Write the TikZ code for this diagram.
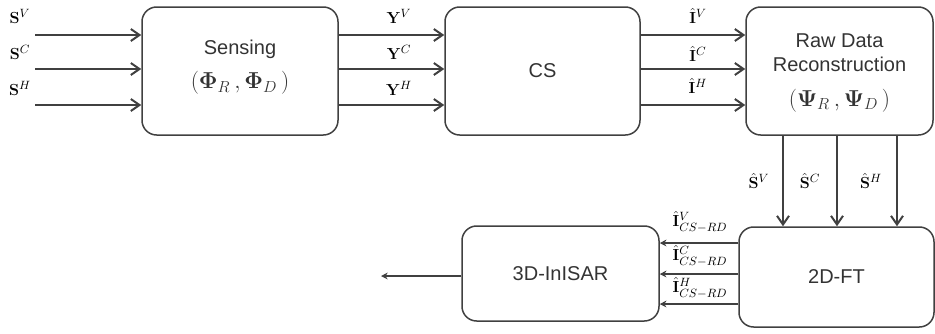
\documentclass[tikz,border=0pt]{standalone}
\usepackage{amsmath}
\usepackage[no-math]{fontspec}
\newfontfamily\arialf{Liberation Sans}
\usetikzlibrary{arrows.meta,calc}
\definecolor{ln}{HTML}{404040}
\definecolor{tx}{HTML}{333333}
\newcommand{\mfont}{\normalfont\fontsize{17}{19}\selectfont}
\begin{document}
\begin{tikzpicture}[x=0.75pt,y=-0.75pt,
  blk/.style={draw=ln,line width=1.5pt*0.75,rounded corners=11pt,align=center,
    inner sep=0pt,font=\arialf\fontsize{15}{18}\selectfont,text=tx},
  btxt/.style={align=center,inner sep=0pt,font=\arialf\fontsize{15}{18}\selectfont,text=tx},
  arr/.style={draw=ln,line width=2.2pt*0.75,-{Straight Barb[length=6.5pt,width=9pt,line width=1.5pt]}},
  larr/.style={draw=ln,line width=2.2pt*0.75,-{Stealth[length=5pt,width=5pt]}},
  lab/.style={inner sep=0pt,text=black,font=\fontsize{13}{15}\selectfont}]
\useasboundingbox (0,0) rectangle (935,333);
% boxes
\node[blk,minimum width=196*0.75pt,minimum height=128*0.75pt] (sens) at (240,71) {};
\node[btxt] (senst) at (240,67)
  {Sensing\\[8pt]\mfont$\left(\mathbf{\Phi}_{R}\,,\mathbf{\Phi}_{D}\,\right)$};
\node[blk,minimum width=195*0.75pt,minimum height=128*0.75pt] (cs) at (542.5,71) {CS};
\node[blk,minimum width=187*0.75pt,minimum height=128*0.75pt] (raw) at (839.5,71) {};
\node[btxt] (rawt) at (839.5,73)
  {Raw Data\\Reconstruction\\[8pt]\mfont$\left(\mathbf{\Psi}_{R}\,,\mathbf{\Psi}_{D}\,\right)$};
\node[blk,minimum width=195*0.75pt,minimum height=100*0.75pt] (ft) at (836.5,277) {2D-FT};
\node[blk,minimum width=197*0.75pt,minimum height=95*0.75pt] (ins) at (560.5,273.5) {3D-InISAR};
% free ends
\coordinate (i1) at (35,35);
\coordinate (i2) at (35,69);
\coordinate (i3) at (35,105);
\coordinate (out) at (381,276);
% inputs
\draw[arr] (i1) -- (i1 -| sens.west);
\draw[arr] (i2) -- (i2 -| sens.west);
\draw[arr] (i3) -- (i3 -| sens.west);
\node[lab] (ls1) at (20,16) {$\mathbf{S}^{V}$};
\node[lab] (ls2) at (20,52) {$\mathbf{S}^{C}$};
\node[lab] (ls3) at (20,88) {$\mathbf{S}^{H}$};
% sensing -> cs
\draw[arr] (i1 -| sens.east) -- (i1 -| cs.west);
\draw[arr] (i2 -| sens.east) -- (i2 -| cs.west);
\draw[arr] (i3 -| sens.east) -- (i3 -| cs.west);
\node[lab] (ly1) at (399,16) {$\mathbf{Y}^{V}$};
\node[lab] (ly2) at (399,52) {$\mathbf{Y}^{C}$};
\node[lab] (ly3) at (399,88) {$\mathbf{Y}^{H}$};
% cs -> raw
\draw[arr] (i1 -| cs.east) -- (i1 -| raw.west);
\draw[arr] (i2 -| cs.east) -- (i2 -| raw.west);
\draw[arr] (i3 -| cs.east) -- (i3 -| raw.west);
\node[lab] (li1) at (698,16) {$\hat{\mathbf{I}}^{V}$};
\node[lab] (li2) at (698,54) {$\hat{\mathbf{I}}^{C}$};
\node[lab] (li3) at (698,86) {$\hat{\mathbf{I}}^{H}$};
% raw -> ft
\coordinate (d1) at (783,0);
\coordinate (d2) at (837,0);
\coordinate (d3) at (897,0);
\draw[arr] (d1 |- raw.south) -- (d1 |- ft.north);
\draw[arr] (d2 |- raw.south) -- (d2 |- ft.north);
\draw[arr] (d3 |- raw.south) -- (d3 |- ft.north);
\node[lab] (lh1) at (759,181) {$\hat{\mathbf{S}}^{V}$};
\node[lab] (lh2) at (810,181) {$\hat{\mathbf{S}}^{C}$};
\node[lab] (lh3) at (871,181) {$\hat{\mathbf{S}}^{H}$};
% ft -> insar
\coordinate (h1) at (0,243);
\coordinate (h2) at (0,274);
\coordinate (h3) at (0,304);
\draw[larr] (h1 -| ft.west) -- (h1 -| ins.east);
\draw[larr] (h2 -| ft.west) -- (h2 -| ins.east);
\draw[larr] (h3 -| ft.west) -- (h3 -| ins.east);
\node[lab] (lc1) at (700,222) {$\hat{\mathbf{I}}^{V}_{CS-RD}$};
\node[lab] (lc2) at (700,256) {$\hat{\mathbf{I}}^{C}_{CS-RD}$};
\node[lab] (lc3) at (700,288) {$\hat{\mathbf{I}}^{H}_{CS-RD}$};
% output
\draw[larr] (ins.west |- out) -- (out);
\end{tikzpicture}
\end{document}
